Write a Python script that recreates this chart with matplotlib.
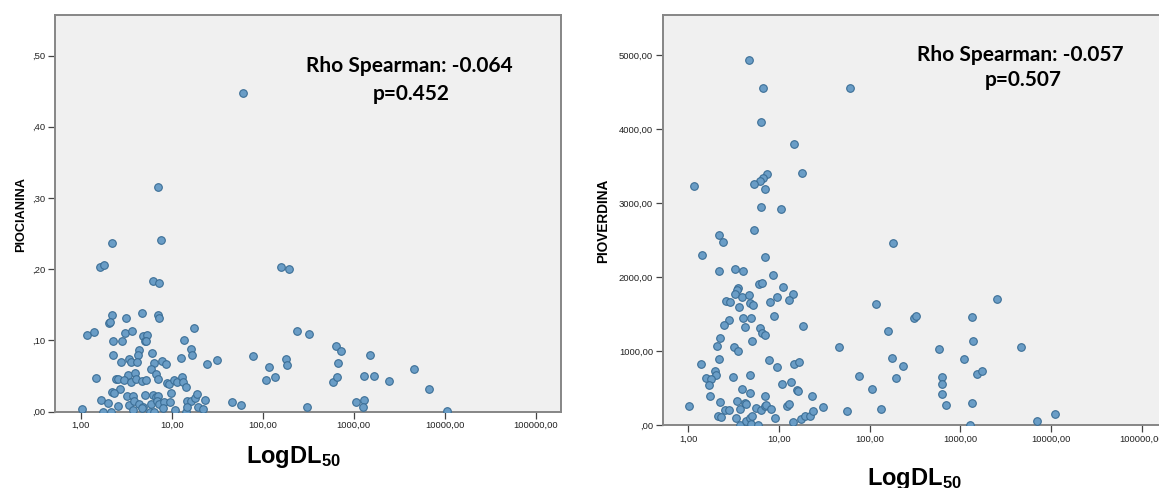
import numpy as np
import matplotlib.pyplot as plt
from matplotlib.ticker import FixedLocator, FixedFormatter

plt.rcParams['font.family'] = ['Liberation Sans', 'DejaVu Sans']
plt.rcParams['mathtext.fontset'] = 'custom'
plt.rcParams['mathtext.bf'] = 'Liberation Sans:bold'
plt.rcParams['mathtext.rm'] = 'Liberation Sans:bold'

# DL50 vs piocianina
dl50_pioc = [61.3, 7.13, 2.21, 7.57, 1.62, 1.80, 6.24, 7.26, 157.7, 196,
             2.21, 4.76, 3.15, 7.10, 7.26, 2.03, 2.10, 17.7, 1.16, 1.40,
             3.10, 3.63, 4.88, 5.36, 5.10, 5.25, 2.25, 2.82, 13.7, 238,
             326, 634, 720, 2.25, 4.38, 4.27, 6.08, 16.4, 16.7, 78.3,
             2.80, 3.40, 3.57, 4.12, 6.34, 7.77, 8.74, 12.7, 24.5, 31.2,
             182, 186, 679, 118, 5.93, 6.73, 6.99, 3.31, 3.99, 1.47,
             2.44, 2.57, 2.97, 3.57, 4.08, 4.72, 5.27, 8.89, 9.42, 10.7,
             11.4, 13.1, 13.3, 14.4, 109, 137, 598, 650, 2.71, 2.19,
             2.32, 3.23, 3.72, 5.09, 6.24, 6.67, 7.07, 9.77, 1.69, 2.00,
             2.55, 3.37, 3.88, 4.34, 4.88, 5.87, 6.83, 7.26, 8.30, 9.58,
             14.7, 16.1, 17.9, 18.8, 19.6, 23.0, 46.4, 57.8, 307, 1.03,
             1.74, 2.17, 3.76, 4.76, 5.74, 6.45, 8.1, 10.99, 14.2, 14.9,
             22.3, 1067, 1297, 1273, 1309, 1682, 1504, 2438, 4541, 6648,
             10480]
pioc = [0.448, 0.316, 0.237, 0.2405, 0.2025, 0.206, 0.183, 0.181, 0.2025, 0.1997,
        0.1355, 0.139, 0.131, 0.136, 0.132, 0.124, 0.126, 0.1167, 0.107, 0.1116,
        0.1097, 0.1135, 0.106, 0.108, 0.0985, 0.099, 0.0985, 0.0985, 0.1003, 0.1125,
        0.1083, 0.0924, 0.0853, 0.0788, 0.0863, 0.0788, 0.0825, 0.0881, 0.0797, 0.0778,
        0.0699, 0.0731, 0.0694, 0.0699, 0.0684, 0.0708, 0.0666, 0.0745, 0.0666, 0.0727,
        0.0736, 0.0652, 0.0684, 0.0624, 0.0595, 0.052, 0.045, 0.0516, 0.0539, 0.0464,
        0.0455, 0.045, 0.0445, 0.0417, 0.0455, 0.0431, 0.0441, 0.0398, 0.038, 0.0445,
        0.0408, 0.0488, 0.0408, 0.0347, 0.0445, 0.0478, 0.0408, 0.0483, 0.0323, 0.0277,
        0.0258, 0.0211, 0.022, 0.023, 0.023, 0.0197, 0.022, 0.0253, 0.0159, 0.0113,
        0.0075, 0.0089, 0.015, 0.0103, 0.0066, 0.0103, 0.015, 0.0103, 0.0127, 0.0136,
        0.015, 0.015, 0.0183, 0.0244, 0.007, 0.0159, 0.0127, 0.0094, 0.0066, 0.0033,
        0.0, 0.0, 0.002, 0.0056, 0.0, 0.0, 0.0056, 0.002, 0.0, 0.0066,
        0.0033, 0.0127, 0.0164, 0.0061, 0.0492, 0.0492, 0.0787, 0.0422, 0.0595, 0.0319,
        0.001]

# DL50 vs pioverdina
dl50_piov = [4.64, 6.63, 60.1, 6.25, 14.5, 17.7, 1.15, 7.46, 6.63, 6.15,
             5.32, 7.03, 6.29, 10.5, 5.28, 2.16, 2.42, 181, 1.43, 7.09,
             2.16, 3.28, 3.98, 8.62, 5.94, 6.56, 11.0, 14.2, 12.8, 9.55,
             7.92, 3.57, 3.47, 3.30, 3.91, 4.64, 2.63, 2.91, 4.73, 5.22,
             3.63, 116, 2.79, 2.50, 3.98, 4.85, 4.23, 8.78, 18.3, 6.15,
             6.56, 7.09, 5.05, 2.22, 2.06, 3.17, 3.54, 45.4, 157, 304,
             322, 584, 1.38, 2.18, 1.95, 2.02, 1.58, 1.76, 1.68, 1.73,
             3.12, 4.73, 7.66, 9.55, 14.6, 16.4, 10.8, 13.4, 76.9, 178,
             233, 194, 106, 3.89, 4.73, 7.09, 15.9, 16.2, 22.9, 1.03,
             2.22, 2.56, 2.79, 2.14, 2.28, 3.45, 3.72, 3.33, 4.19, 4.37,
             5.63, 6.35, 6.92, 7.21, 8.11, 9.13, 12.3, 13.0, 14.2, 17.4,
             19.1, 21.7, 23.8, 30.5, 56.7, 132, 3.72, 4.30, 4.73, 5.09,
             4.88, 5.79, 630, 630, 620, 697, 1086, 1346, 1359, 1346,
             1285, 1535, 1718, 2500, 4680, 7000, 10890]
piov = [4937, 4555, 4550, 4095, 3793, 3406, 3230, 3397, 3338, 3293,
        3262, 3190, 2951, 2915, 2635, 2568, 2469, 2460, 2298, 2271,
        2086, 2117, 2086, 2032, 1906, 1924, 1874, 1779, 1694, 1730,
        1671, 1852, 1825, 1770, 1734, 1761, 1685, 1671, 1649, 1626,
        1604, 1640, 1424, 1361, 1451, 1451, 1329, 1473, 1338, 1315,
        1248, 1216, 1140, 1180, 1077, 1054, 1009, 1059, 1270, 1451,
        1482, 1027, 833, 901, 734, 680, 635, 626, 550, 401,
        649, 676, 887, 793, 829, 851, 563, 590, 662, 906,
        806, 635, 487, 496, 437, 401, 482, 464, 396, 261,
        320, 212, 203, 126, 113, 329, 216, 95, 302, 293,
        230, 207, 261, 270, 221, 104, 257, 288, 41, 81,
        131, 126, 189, 248, 198, 221, 0, 54, 99, 126,
        23, 0, 653, 559, 428, 270, 893, 1465, 1132, 302,
        9, 699, 730, 1700, 1055, 63, 158]

x_ticks = [1, 10, 100, 1000, 10000, 100000]
x_labels = ['1,00', '10,00', '100,00', '1000,00', '10000,00', '100000,00']
pioc_ticks = [0, 0.1, 0.2, 0.3, 0.4, 0.5]
pioc_labels = [',00', ',10', ',20', ',30', ',40', ',50']
piov_ticks = [0, 1000, 2000, 3000, 4000, 5000]
piov_labels = [',00', '1000,00', '2000,00', '3000,00', '4000,00', '5000,00']

W, H = 1159, 488
fig = plt.figure(figsize=(W / 100, H / 100), dpi=100)


def box(x0, y0, x1, y1):
    # pixel box (top-left origin) -> figure fraction
    return [x0 / W, 1 - y1 / H, (x1 - x0) / W, (y1 - y0) / H]


def px_text(x, y, s, **kw):
    fig.text(x / W, 1 - y / H, s, **kw)


def style(ax, ticks, labels, ymax):
    ax.set_facecolor('#f0f0f0')
    ax.set_xscale('log')
    ax.set_xlim(0.522, 189000)
    ax.set_ylim(0, ymax)
    ax.xaxis.set_major_locator(FixedLocator(x_ticks))
    ax.xaxis.set_major_formatter(FixedFormatter(x_labels))
    ax.xaxis.set_minor_locator(FixedLocator([]))
    ax.yaxis.set_major_locator(FixedLocator(ticks))
    ax.yaxis.set_major_formatter(FixedFormatter(labels))
    for s in ax.spines.values():
        s.set_color('#868686')
        s.set_linewidth(1.4)
    ax.tick_params(length=5, width=0.9, color='#444444', labelsize=6.8,
                   labelcolor='#222222', pad=2)


def scatter(ax, x, y):
    ax.scatter(x, y, s=30, facecolor='#6a9dc6', edgecolor='#3b6e96',
               linewidths=0.8, zorder=3)


ax1 = fig.add_axes(box(55, 15, 561, 411.5))
style(ax1, pioc_ticks, pioc_labels, 0.557)
scatter(ax1, dl50_pioc, pioc)

ax2 = fig.add_axes(box(662.7, 15, 1167, 425.3))
style(ax2, piov_ticks, piov_labels, 5540)
scatter(ax2, dl50_piov, piov)

# correlation notes
note = dict(ha='center', va='baseline', family='Lato', fontweight='bold', fontsize=15)
px_text(409, 72.5, 'Rho Spearman: -0.064', **note)
px_text(411, 100, 'p=0.452', **note)
px_text(1020, 61, 'Rho Spearman: -0.057', **note)
px_text(1023, 86.5, 'p=0.507', **note)

# axis titles
px_text(21, 214.5, 'PIOCIANINA', rotation=90, ha='center', va='center',
        fontsize=9.2, fontweight='bold')
px_text(603.4, 220.7, 'PIOVERDINA', rotation=90, ha='center', va='center',
        fontsize=9.8, fontweight='bold')
px_text(293, 463.3, r'$\mathbf{LogDL_{50}}$', ha='center', va='baseline', fontsize=17)
px_text(914.7, 485, r'$\mathbf{LogDL_{50}}$', ha='center', va='baseline', fontsize=17)

fig.savefig('out.png', dpi=100)
